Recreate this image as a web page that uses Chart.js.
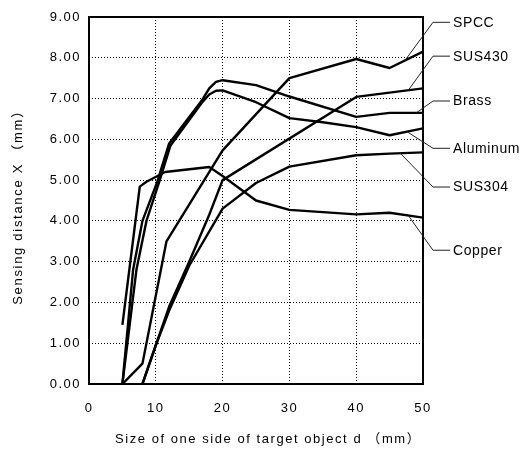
<!DOCTYPE html>
<html><head><meta charset="utf-8">
<script src="https://cdn.jsdelivr.net/npm/chart.js@4.4.1/dist/chart.umd.min.js"></script>
<style>html,body{margin:0;padding:0;background:#fff;}#wrap{width:525px;height:452px;}</style>
</head><body><div id="wrap"><canvas id="c" width="525" height="452"></canvas></div>
<script>
// ---- data ----
const xTicks = [0, 10, 20, 30, 40, 50];
const yTicks = [0, 1, 2, 3, 4, 5, 6, 7, 8, 9];
const seriesNames = ['SPCC', 'SUS430', 'Brass', 'Aluminum', 'SUS304', 'Copper'];
const xTitle = 'Size of one side of target object d （mm）';
const yTitle = 'Sensing distance X （mm）';

const spccX = [5, 8, 11.6, 20, 30, 40, 45, 50];
const spccY = [0, 0.5, 3.5, 5.73, 7.5, 7.97, 7.75, 8.15];

const sus430X = [8, 10, 12, 15, 18, 20, 40, 50];
const sus430Y = [0, 0.95, 1.9, 3.0, 4.15, 5.0, 7.04, 7.25];

const brassX = [5, 6.6, 8, 10.2, 12, 17, 18, 19, 20, 25, 30, 40, 45, 50];
const brassY = [0, 2.8, 4.0, 4.95, 5.9, 6.98, 7.25, 7.41, 7.45, 7.33, 7.05, 6.55, 6.65, 6.65];

const aluminumX = [5, 7.1, 8.6, 10.5, 12.2, 17, 18, 19, 20, 25, 30, 35, 40, 45, 50];
const aluminumY = [0, 2.8, 4.0, 4.95, 5.85, 6.92, 7.1, 7.19, 7.2, 6.91, 6.52, 6.42, 6.3, 6.1, 6.27];

const sus304X = [8, 10, 12, 15, 20, 25, 30, 40, 45, 50];
const sus304Y = [0, 0.95, 1.8, 2.9, 4.3, 4.93, 5.33, 5.61, 5.65, 5.68];

const copperX = [5, 7.6, 8.6, 11.4, 18, 20, 25, 30, 40, 45, 50];
const copperY = [1.45, 4.84, 4.96, 5.2, 5.32, 5.1, 4.5, 4.27, 4.16, 4.2, 4.08];

// label placement (in data units) and leader anchor x on each series
const labelYValues = [8.87, 8.04, 6.94, 5.78, 4.83, 3.28];
const anchorXValues = [47.3, 47.8, 49.0, 47.6, 46.6, 47.8];

const seriesX = [spccX, sus430X, brassX, aluminumX, sus304X, copperX];
const seriesY = [spccY, sus430Y, brassY, aluminumY, sus304Y, copperY];

function interp(xs, ys, v) {
  for (let i = 0; i < xs.length - 1; i++) {
    if (v >= xs[i] && v <= xs[i + 1]) {
      const t = (v - xs[i]) / (xs[i + 1] - xs[i]);
      return ys[i] + t * (ys[i + 1] - ys[i]);
    }
  }
  return ys[ys.length - 1];
}

const FONT = '"Liberation Sans", Arial, "Noto Sans CJK JP", sans-serif';

const datasets = seriesNames.map((n, i) => ({
  label: n,
  data: seriesX[i].map((x, j) => ({x, y: seriesY[i][j]})),
  borderColor: '#000',
  borderWidth: 2.4,
  pointRadius: 0,
  tension: 0,
  fill: false,
  borderJoinStyle: 'round',
  borderCapStyle: 'butt'
}));

const spacingPlugin = {
  id: 'spacing',
  beforeUpdate(chart) { chart.ctx.letterSpacing = '1.5px'; },
  beforeDraw(chart) { chart.ctx.letterSpacing = '1.5px'; }
};

const framePlugin = {
  id: 'frame',
  afterDraw(chart) {
    const {ctx, chartArea: a, scales: {x, y}} = chart;
    ctx.save();
    ctx.strokeStyle = '#000';
    ctx.lineWidth = 2;
    ctx.setLineDash([]);
    ctx.strokeRect(a.left, a.top, a.right - a.left, a.bottom - a.top);

    // axis titles
    ctx.fillStyle = '#000';
    ctx.font = '13px ' + FONT;
    ctx.letterSpacing = '1.55px';
    ctx.textBaseline = 'middle';
    ctx.textAlign = 'left';
    ctx.fillText(xTitle, 115, 439);
    ctx.save();
    ctx.translate(18, 204);
    ctx.rotate(-Math.PI / 2);
    ctx.letterSpacing = '1.7px';
    ctx.textAlign = 'center';
    ctx.fillText(yTitle, 0, 0);
    ctx.restore();

    // series labels with leader lines
    ctx.lineWidth = 1;
    ctx.strokeStyle = '#222';
    ctx.letterSpacing = '0.6px';
    ctx.font = '14px ' + FONT;
    ctx.textAlign = 'left';
    seriesNames.forEach((n, i) => {
      const ax = anchorXValues[i];
      const ay = interp(seriesX[i], seriesY[i], ax);
      const px = x.getPixelForValue(ax), py = y.getPixelForValue(ay);
      const ly = y.getPixelForValue(labelYValues[i]);
      const ex = a.right + 10;
      ctx.beginPath();
      ctx.moveTo(px, py);
      ctx.lineTo(ex, ly);
      ctx.lineTo(ex + 17, ly);
      ctx.stroke();
      ctx.fillText(n, ex + 20, ly + 0.5);
    });
    ctx.restore();
  }
};

const gridColor = (ctx, edges) => edges.includes(ctx.tick && ctx.tick.value) ? 'rgba(0,0,0,0)' : '#000';

new Chart(document.getElementById('c'), {
  type: 'line',
  data: {datasets},
  plugins: [spacingPlugin, framePlugin],
  options: {
    responsive: false,
    devicePixelRatio: 1,
    animation: false,
    layout: {padding: {left: 4, right: 102, top: 17, bottom: 0}},
    plugins: {legend: {display: false}, tooltip: {enabled: false}},
    scales: {
      x: {
        type: 'linear',
        min: xTicks[0], max: xTicks[xTicks.length - 1],
        afterBuildTicks(s) { s.ticks = xTicks.map(v => ({value: v})); },
        afterFit(s) { s.height = 68; },
        grid: {color: c => gridColor(c, [0, 50]), lineWidth: 1, drawTicks: false},
        border: {display: false, dash: [1, 2]},
        ticks: {color: '#000', font: {size: 13, family: FONT}, padding: 17, maxRotation: 0},
        title: {display: false}
      },
      y: {
        type: 'linear',
        min: yTicks[0], max: yTicks[yTicks.length - 1],
        afterBuildTicks(s) { s.ticks = yTicks.map(v => ({value: v})); },
        afterFit(s) { s.width = 85; },
        grid: {color: c => gridColor(c, [0, 9]), lineWidth: 1, drawTicks: false},
        border: {display: false, dash: [1, 2]},
        ticks: {color: '#000', font: {size: 13, family: FONT}, padding: 8, callback: v => Number(v).toFixed(2)},
        title: {display: false}
      }
    }
  }
});
</script></body></html>
